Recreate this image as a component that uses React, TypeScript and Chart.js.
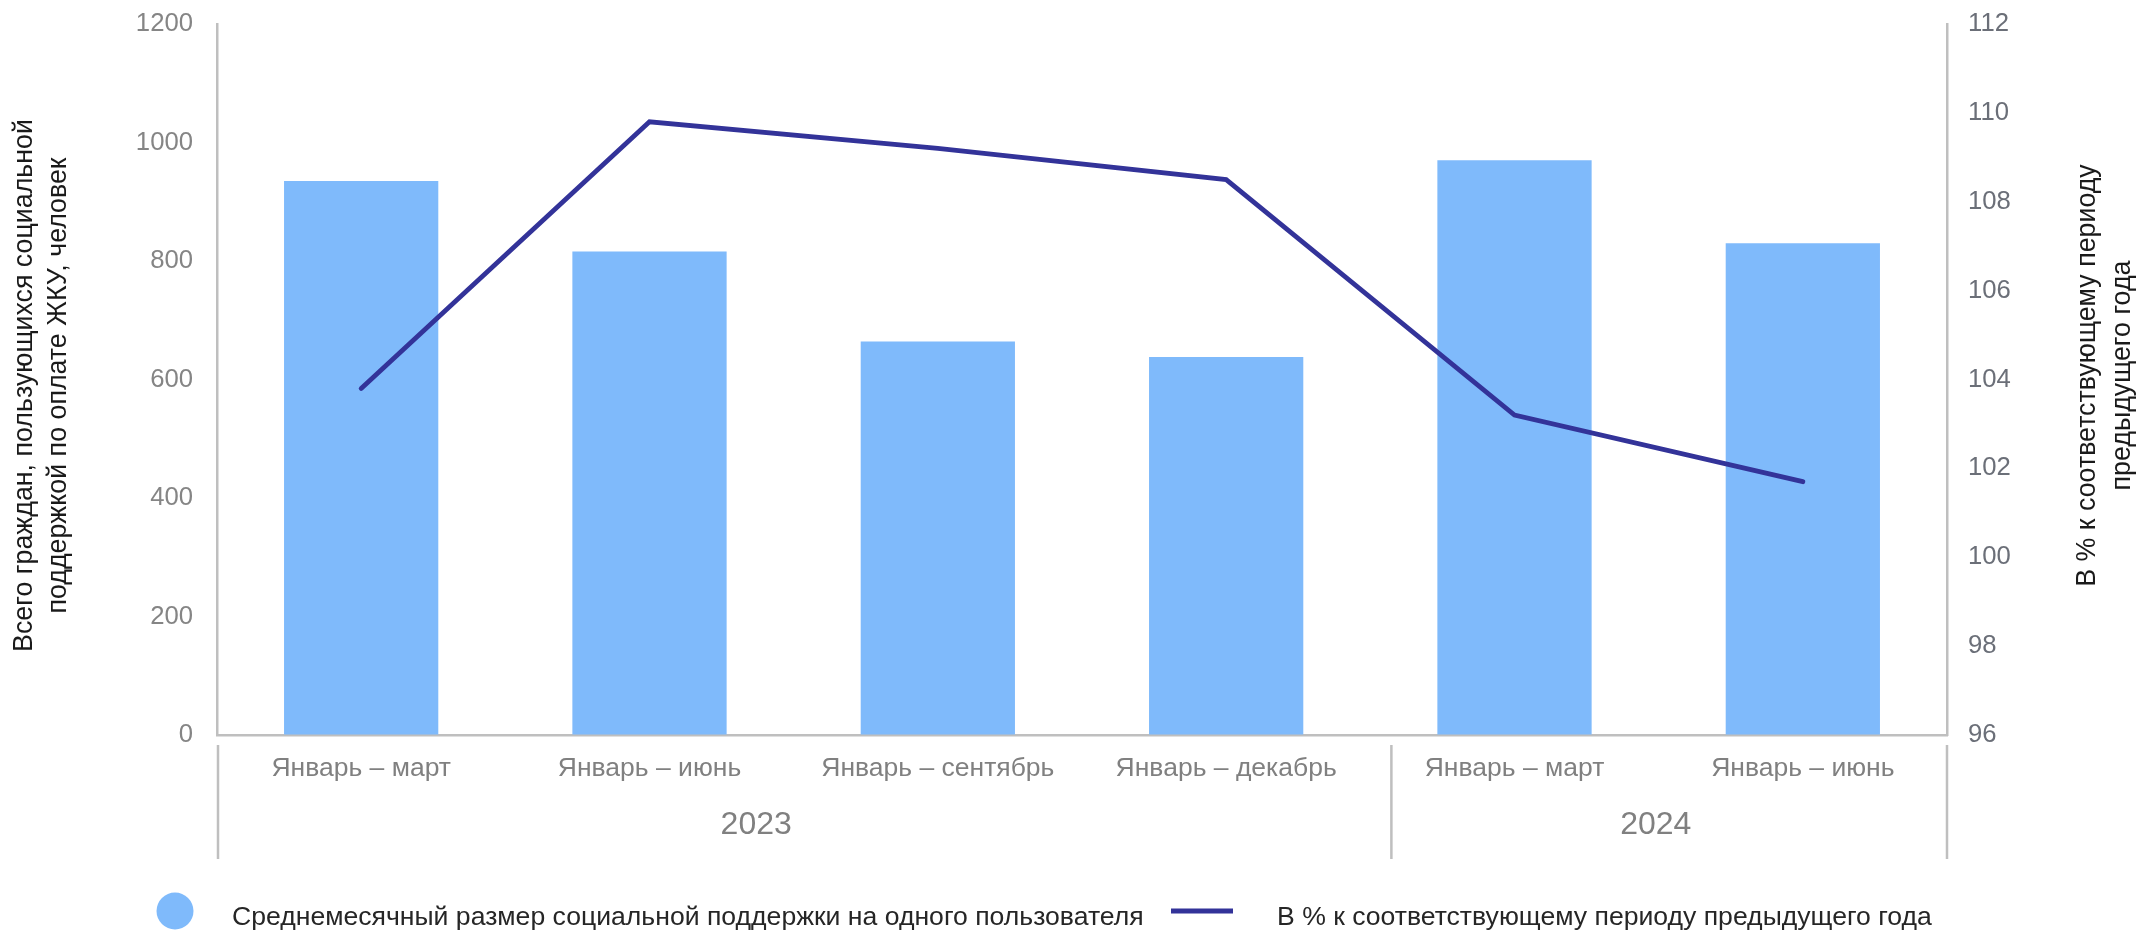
import React, { useEffect, useRef } from "react";
import { Chart, registerables } from "chart.js";

Chart.register(...registerables);

const categories = [
  "Январь – март",
  "Январь – июнь",
  "Январь – сентябрь",
  "Январь – декабрь",
  "Январь – март",
  "Январь – июнь",
];
const years = ["2023", "2024"];
const supportValues = [935, 816, 664, 638, 970, 830];
const percentValues = [103.8, 109.8, 109.2, 108.5, 103.2, 101.7];
const barLabel = "Среднемесячный размер социальной поддержки на одного пользователя";
const lineLabel = "В % к соответствующему периоду предыдущего года";
const leftTitle = ["Всего граждан, пользующихся социальной", "поддержкой по оплате ЖКУ, человек"];
const rightTitle = ["В % к соответствующему периоду", "предыдущего года"];

const BAR_COLOR = "#7fbafb";
const LINE_COLOR = "#333399";
const AXIS_COLOR = "#bfbfbf";
const FONT = "'Liberation Sans', Arial, sans-serif";

const overlayPlugin = {
  id: "overlay",
  afterDraw(chart: any) {
    const { ctx, chartArea, scales } = chart;
    const x = scales.x;
    const cw = x.getPixelForValue(1) - x.getPixelForValue(0);
    ctx.save();

    // group separators under the x axis
    ctx.strokeStyle = AXIS_COLOR;
    ctx.lineWidth = 2.5;
    const sepTop = chartArea.bottom + 10;
    const sepBot = chartArea.bottom + 124;
    const seps = [chartArea.left + 1, x.getPixelForValue(3.5) + 0.073 * cw, chartArea.right];
    seps.forEach((sx) => {
      ctx.beginPath();
      ctx.moveTo(sx, sepTop);
      ctx.lineTo(sx, sepBot);
      ctx.stroke();
    });

    // year labels
    const yearAt = [1.37, 4.49];
    ctx.fillStyle = "#808080";
    ctx.font = `32px ${FONT}`;
    ctx.textAlign = "center";
    ctx.textBaseline = "middle";
    years.forEach((yl, i) => {
      ctx.fillText(yl, x.getPixelForValue(yearAt[i]), chartArea.bottom + 90);
    });

    // axis titles
    ctx.fillStyle = "#1a1a1a";
    ctx.font = `26.8px ${FONT}`;
    const cy = (chartArea.top + chartArea.bottom) / 2;
    ctx.save();
    ctx.translate(0, cy + 6);
    ctx.rotate(-Math.PI / 2);
    ctx.fillText(leftTitle[0], 0, 25);
    ctx.fillText(leftTitle[1], 0, 59);
    ctx.restore();
    ctx.save();
    ctx.translate(0, cy - 4);
    ctx.rotate(-Math.PI / 2);
    ctx.fillText(rightTitle[0], 0, 2088);
    ctx.fillText(rightTitle[1], 0, 2123);
    ctx.restore();

    // legend
    const ly = 911;
    ctx.fillStyle = BAR_COLOR;
    ctx.beginPath();
    ctx.arc(175, ly, 18.5, 0, Math.PI * 2);
    ctx.fill();
    ctx.fillStyle = "#262626";
    ctx.font = `26.6px ${FONT}`;
    ctx.textAlign = "left";
    ctx.textBaseline = "alphabetic";
    ctx.fillText(barLabel, 232, ly + 14);
    ctx.strokeStyle = LINE_COLOR;
    ctx.lineWidth = 5;
    ctx.beginPath();
    ctx.moveTo(1171, ly);
    ctx.lineTo(1233, ly);
    ctx.stroke();
    ctx.fillText(lineLabel, 1277, ly + 14);

    ctx.restore();
  },
};

export default function App() {
  const ref = useRef<HTMLCanvasElement | null>(null);
  useEffect(() => {
    document.body.style.margin = "0";
    const canvas = ref.current!;
    const chart = new Chart(canvas, {
      type: "bar",
      data: {
        labels: categories,
        datasets: [
          {
            type: "line",
            label: lineLabel,
            data: percentValues,
            yAxisID: "y1",
            borderColor: LINE_COLOR,
            backgroundColor: LINE_COLOR,
            borderWidth: 4.8,
            pointRadius: 0,
            borderCapStyle: "round",
            borderJoinStyle: "miter",
            tension: 0,
            order: 0,
          } as any,
          {
            type: "bar",
            label: barLabel,
            data: supportValues,
            yAxisID: "y",
            backgroundColor: BAR_COLOR,
            categoryPercentage: 1,
            barPercentage: 0.535,
            order: 1,
          } as any,
        ],
      },
      options: {
        responsive: false,
        animation: false,
        devicePixelRatio: 1,
        layout: { padding: { top: 24, left: 0, right: 0, bottom: 0 } },
        plugins: { legend: { display: false }, tooltip: { enabled: false } },
        scales: {
          x: {
            grid: { display: true, drawOnChartArea: false, drawTicks: false },
            border: { display: true, color: AXIS_COLOR, width: 2.5 },
            ticks: {
              color: "#808080",
              font: { size: 26.5, family: FONT },
              padding: 18,
              maxRotation: 0,
              autoSkip: false,
            },
            afterFit: (s: any) => {
              s.height = 198;
              s.paddingLeft = 0;
              s.paddingRight = 0;
            },
          },
          y: {
            position: "left",
            min: 0,
            max: 1200,
            ticks: {
              stepSize: 200,
              color: "#858585",
              font: { size: 25.7, family: FONT },
              padding: 24,
              callback: (v: any) => String(v),
            },
            grid: { display: true, drawOnChartArea: false, drawTicks: false },
            border: { display: true, color: AXIS_COLOR, width: 2.5 },
            afterFit: (s: any) => {
              s.width = 217;
              s.paddingTop = 0;
              s.paddingBottom = 0;
            },
          },
          y1: {
            position: "right",
            min: 96,
            max: 112,
            ticks: {
              stepSize: 2,
              color: "#6b6f78",
              font: { size: 25.7, family: FONT },
              padding: 21,
              callback: (v: any) => String(v),
            },
            grid: { display: true, drawOnChartArea: false, drawTicks: false },
            border: { display: true, color: AXIS_COLOR, width: 2.5 },
            afterFit: (s: any) => {
              s.width = 191;
              s.paddingTop = 0;
              s.paddingBottom = 0;
            },
          },
        },
      },
      plugins: [overlayPlugin],
    });
    return () => chart.destroy();
  }, []);
  return <canvas ref={ref} width={2138} height={933} style={{ display: "block" }} />;
}
